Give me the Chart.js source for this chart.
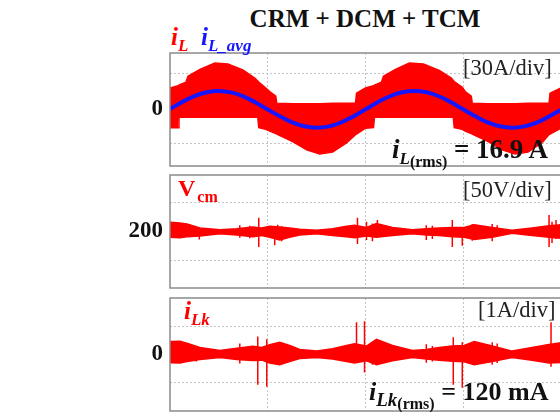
<!DOCTYPE html>
<html>
<head>
<meta charset="utf-8">
<script src="https://cdn.jsdelivr.net/npm/chart.js@4.4.1/dist/chart.umd.min.js"></script>
<style>
  html, body { margin: 0; padding: 0; width: 560px; height: 412px; overflow: hidden; background: #fff; }
  .panel { position: absolute; left: 0; width: 580px; height: 119px; }
  .txt { position: absolute; font-family: 'Liberation Serif', 'Times New Roman', serif; white-space: nowrap; line-height: 1; }
  .title { font-weight: bold; font-size: 25px; color: #111; }
  .unit { font-size: 22.5px; color: #222; }
  .sig { font-weight: bold; font-style: italic; font-size: 25px; }
  .sig .s { font-size: 17px; position: relative; top: 6px; }
  .rms { font-weight: bold; font-size: 27px; color: #111; }
  .rms .i { font-style: italic; }
  .rms .s { font-style: italic; font-size: 17px; position: relative; top: 6px; }
  .rms .r { font-size: 16px; position: relative; top: 9px; }
</style>
</head>
<body>
<div class="panel" style="top:50px"><canvas id="p1" width="580" height="119"></canvas></div>
<div class="panel" style="top:172px"><canvas id="p2" width="580" height="119"></canvas></div>
<div class="panel" style="top:295px"><canvas id="p3" width="580" height="119"></canvas></div>

<div class="txt title" style="left:365px; top:6px; transform:translateX(-50%)">CRM + DCM + TCM</div>
<div class="txt sig" style="left:171px; top:24px; color:#ff0000">i<span class="s">L</span></div>
<div class="txt sig" style="left:201px; top:24px; color:#1515ff">i<span class="s">L_avg</span></div>
<div class="txt unit" style="left:463px; top:57px">[30A/div]</div>
<div class="txt rms" style="left:392px; top:136px"><span class="i">i</span><span class="s">L</span><span class="r">(rms)</span> = 16.9 A</div>

<div class="txt" style="left:178px; top:176px; color:#ff0000; font-weight:bold; font-size:24px">V<span style="font-size:16px; position:relative; top:6px; margin-left:2px">cm</span></div>
<div class="txt unit" style="left:463px; top:179px">[50V/div]</div>

<div class="txt sig" style="left:184px; top:298px; color:#ff0000">i<span class="s">Lk</span></div>
<div class="txt unit" style="left:478px; top:299px">[1A/div]</div>
<div class="txt rms" style="left:369px; top:379px; font-size:26px"><span class="i">i</span><span class="s" style="font-size:19px">Lk</span><span class="r">(rms)</span> = 120 mA</div>

<script>
// x in scope divisions (0..4), y in each channel's units

// i_L : inductor current band (upper / lower envelope) and its average
const iLBandX = [0, 0.082, 0.092, 0.163, 0.184, 0.306, 0.459, 0.592, 0.745, 0.867, 0.898, 0.908, 0.98, 1.02, 1.082, 1.092, 1.255, 1.398, 1.531, 1.663, 1.806, 1.898, 1.908, 2.0, 2.082, 2.092, 2.163, 2.184, 2.306, 2.449, 2.592, 2.755, 2.878, 2.898, 2.908, 2.99, 3.02, 3.082, 3.092, 3.255, 3.398, 3.531, 3.663, 3.806, 3.878, 3.888, 4.0];
const iLHigh = [18, 20, 20.5, 23, 28, 34, 39.5, 38.5, 33.5, 26.5, 24, 23, 18, 15, 11, 5, 4.5, 4.5, 4.5, 5, 5, 5, 13.5, 18, 20, 20.5, 23, 28, 34, 39.5, 38.5, 33, 26.5, 24.5, 23.5, 18.5, 15, 11, 5, 4.5, 4.5, 4.5, 5, 5, 5, 13.5, 18];
const iLLow = [-16, -16, -7, -7, -7, -7, -7, -7, -7, -7, -7, -16, -17.5, -19, -21, -21.5, -28, -35, -38.5, -37, -29, -22, -21.5, -16.5, -16, -7, -7, -7, -7, -7, -7, -7, -7, -7, -16, -17.5, -19, -21, -21.5, -28, -35, -38.5, -37, -29, -22, -21.5, -16.5];
const iLAvgX = [0, 0.125, 0.25, 0.375, 0.5, 0.625, 0.75, 0.875, 1, 1.125, 1.25, 1.375, 1.5, 1.625, 1.75, 1.875, 2, 2.125, 2.25, 2.375, 2.5, 2.625, 2.75, 2.875, 3, 3.125, 3.25, 3.375, 3.5, 3.625, 3.75, 3.875, 4];
const iLAvg = [0, 6, 11, 14.3, 15.5, 14.2, 10.8, 5.6, -0.5, -6.3, -11.5, -14.8, -16, -14.9, -11.6, -6.4, -0.3, 5.8, 10.9, 14.3, 15.5, 14.3, 10.9, 5.7, -0.3, -6.3, -11.5, -14.8, -16, -14.9, -11.7, -6.5, -0.6];

// V_cm : common-mode voltage band and spikes
const vcmX = [0, 0.102, 0.173, 0.306, 0.51, 0.684, 0.847, 0.939, 1.02, 1.122, 1.224, 1.327, 1.5, 1.663, 1.806, 1.888, 2.01, 2.112, 2.276, 2.48, 2.622, 2.755, 2.888, 3.01, 3.112, 3.296, 3.5, 3.704, 3.878, 4.0];
const vcmHigh = [216, 215, 213, 206, 203, 205, 208, 206, 209, 208, 206, 204, 202, 205, 209, 211, 207, 214, 207, 203, 205, 206, 207, 207, 212, 207, 202, 206, 210, 212];
const vcmLow = [190, 189, 191, 192, 196, 194, 191, 193, 190, 185, 190, 194, 196, 193, 191, 189, 192, 190, 193, 196, 194, 193, 191, 190, 186, 190, 197, 193, 190, 188];
const vcmSpikeX = [0.3, 0.714, 0.816, 0.908, 1.071, 1.102, 1.143, 1.918, 2.01, 2.071, 2.122, 2.622, 2.684, 2.888, 2.99, 3.092, 3.296, 3.347, 3.878, 3.908, 3.949];
const vcmSpikeHigh = [208, 211, 210, 224, 201, 212, 209, 224, 217, 214, 220, 211, 210, 220, 204, 213, 213, 211, 229, 217, 220];
const vcmSpikeLow = [186, 189, 188, 173, 176, 186, 183, 178, 185, 183, 192, 185, 187, 173, 175, 184, 183, 192, 173, 180, 187];

// i_Lk : leakage current band and spikes
const iLkX = [0, 0.102, 0.173, 0.306, 0.51, 0.684, 0.847, 0.939, 1.02, 1.122, 1.224, 1.327, 1.5, 1.663, 1.806, 1.888, 2.01, 2.112, 2.276, 2.48, 2.622, 2.755, 2.888, 3.01, 3.112, 3.296, 3.5, 3.704, 3.878, 4.0];
const iLkHigh = [0.46, 0.47, 0.4, 0.25, 0.14, 0.22, 0.29, 0.25, 0.35, 0.43, 0.32, 0.18, 0.12, 0.2, 0.32, 0.38, 0.3, 0.54, 0.32, 0.14, 0.18, 0.25, 0.3, 0.32, 0.46, 0.3, 0.12, 0.25, 0.35, 0.42];
const iLkLow = [-0.29, -0.3, -0.25, -0.18, -0.11, -0.18, -0.21, -0.2, -0.3, -0.36, -0.25, -0.14, -0.11, -0.16, -0.25, -0.3, -0.22, -0.36, -0.22, -0.11, -0.16, -0.2, -0.24, -0.26, -0.36, -0.25, -0.11, -0.2, -0.3, -0.28];
const iLkSpikeX = [0.27, 0.714, 0.898, 0.99, 1.102, 1.908, 1.99, 2.071, 2.622, 2.684, 2.898, 2.99, 3.092, 3.296, 3.347, 3.898];
const iLkSpikeHigh = [0.3, 0.39, 0.64, 0.54, 0.36, 1.14, 1.18, 0.43, 0.36, 0.3, 0.61, 0.43, 0.39, 0.43, 0.39, 1.14];
const iLkSpikeLow = [-0.25, -0.32, -1.07, -1.14, -0.32, -0.1, -0.64, -0.36, -0.29, -0.25, -1.07, -1.18, -0.32, -0.36, -0.3, -0.43];

// y axis: range, dotted grid values, labelled centre value
const iLRange = [-48.9, 48];
const iLGrid = [-30, 30];
const vcmRange = [101, 299];
const vcmGrid = [150, 250];
const iLkRange = [-2, 2];
const iLkGrid = [-1, 1];
const xGrid = [1, 2, 3];

const RED = '#ff0000';
const BLUE = '#1515ff';

function pts(xs, ys) {
    return xs.map((x, i) => ({ x: x, y: ys[i] }));
}

function spikePts(xs, hi, lo) {
    const out = [];
    xs.forEach((x, i) => {
        out.push({ x: x, y: hi[i] }, { x: x, y: lo[i] }, { x: x, y: null });
    });
    return out;
}

function band(xs, hi, lo) {
    return [
        { data: pts(xs, hi), borderColor: RED, backgroundColor: RED, borderWidth: 1.5, fill: '+1', tension: 0 },
        { data: pts(xs, lo), borderColor: RED, backgroundColor: RED, borderWidth: 1.5, fill: false, tension: 0 }
    ];
}

// gray box round each plot area
const frame = {
    id: 'frame',
    afterDraw(chart) {
        const a = chart.chartArea;
        const ctx = chart.ctx;
        ctx.save();
        ctx.strokeStyle = '#8a8a8a';
        ctx.lineWidth = 1.5;
        ctx.strokeRect(a.left, a.top, a.right - a.left, a.bottom - a.top);
        ctx.restore();
    }
};

function noPad(s) {
    s.paddingTop = 0;
    s.paddingBottom = 0;
    s.paddingLeft = 0;
    s.paddingRight = 0;
}

function makePanel(id, range, grid, centre, centreLabel, datasets) {
    const yTicks = [grid[0], centre, grid[1]];
    new Chart(document.getElementById(id), {
        type: 'line',
        data: { datasets: datasets },
        options: {
            responsive: false,
            animation: false,
            devicePixelRatio: 1,
            layout: { padding: { top: 3, bottom: 3, left: 0, right: 19 } },
            elements: { point: { radius: 0 } },
            plugins: { legend: { display: false }, tooltip: { enabled: false } },
            scales: {
                x: {
                    type: 'linear', min: 0, max: 4, offset: false,
                    afterBuildTicks: s => { s.ticks = xGrid.map(v => ({ value: v })); },
                    afterFit: s => { s.height = 0; noPad(s); },
                    ticks: { display: false },
                    grid: { color: '#c4c4c4', lineWidth: 1, drawTicks: false },
                    border: { display: false, dash: [2, 2] }
                },
                y: {
                    min: range[0], max: range[1],
                    afterBuildTicks: s => { s.ticks = yTicks.map(v => ({ value: v })); },
                    afterFit: s => { s.width = 170; noPad(s); },
                    ticks: {
                        padding: 7,
                        color: '#111',
                        font: { family: 'Liberation Serif', weight: 'bold', size: 23 },
                        callback: v => (v === centre ? centreLabel : '')
                    },
                    grid: {
                        color: c => (c.tick && c.tick.value === centre ? 'rgba(0,0,0,0)' : '#c4c4c4'),
                        lineWidth: 1, drawTicks: false
                    },
                    border: { display: false, dash: [2, 2] }
                }
            }
        },
        plugins: [frame]
    });
}

makePanel('p1', iLRange, iLGrid, 0, '0', [
    { data: pts(iLAvgX, iLAvg), borderColor: BLUE, borderWidth: 4, fill: false, tension: 0.4 },
    ...band(iLBandX, iLHigh, iLLow)
]);

makePanel('p2', vcmRange, vcmGrid, 200, '200', [
    { data: spikePts(vcmSpikeX, vcmSpikeHigh, vcmSpikeLow), borderColor: RED, borderWidth: 1.5, fill: false, spanGaps: false },
    ...band(vcmX, vcmHigh, vcmLow)
]);

makePanel('p3', iLkRange, iLkGrid, 0, '0', [
    { data: spikePts(iLkSpikeX, iLkSpikeHigh, iLkSpikeLow), borderColor: RED, borderWidth: 1.5, fill: false, spanGaps: false },
    ...band(iLkX, iLkHigh, iLkLow)
]);
</script>
</body>
</html>
